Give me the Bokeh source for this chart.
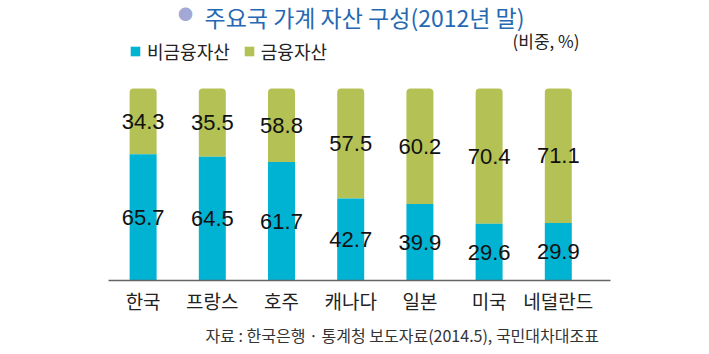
from bokeh.plotting import figure
from bokeh.models import (ColumnDataSource, Range1d, FixedTicker, Label, Legend,
                          LegendItem, Title)
from bokeh.core.properties import value
from bokeh.embed import file_html
from bokeh.resources import INLINE

categories = ["한국", "프랑스", "호주", "캐나다", "일본", "미국", "네덜란드"]
non_financial = [65.7, 64.5, 61.7, 42.7, 39.9, 29.6, 29.9]
financial = [34.3, 35.5, 58.8, 57.5, 60.2, 70.4, 71.1]
total = 100

BLUE = "#00B3D3"
GREEN = "#B4C155"
KFONT = "Noto Sans CJK KR"

xs = list(range(len(categories)))
src = ColumnDataSource(dict(
    x=xs,
    nf=non_financial,
    fi=financial,
    top=[total] * len(xs),
    nf_mid=[v / 2 for v in non_financial],
    fi_mid=[(v + total) / 2 for v in non_financial],
    nf_txt=[f"{v:.1f}" for v in non_financial],
    fi_txt=[f"{v:.1f}" for v in financial],
))

W, H = 709, 354
p = figure(width=W, height=H, output_backend="svg", toolbar_location=None,
           x_range=Range1d(-2.061, 8.185), y_range=Range1d(0, 145.83),
           min_border_left=0, min_border_right=0, min_border_top=0,
           min_border_bottom=74, y_axis_location=None)
p.outline_line_color = None
p.xgrid.visible = False
p.ygrid.visible = False
p.background_fill_color = "white"
p.border_fill_color = "white"

bw = 0.39
r_fi = p.vbar(x="x", bottom="nf", top="top", width=bw, source=src,
              fill_color=GREEN, line_color=None, border_radius=(4, 4, 0, 0))
r_nf = p.vbar(x="x", bottom=0, top="nf", width=bw, source=src,
              fill_color=BLUE, line_color=None)

p.text(x="x", y="nf_mid", text="nf_txt", source=src, text_align="center",
       text_baseline="middle", text_font=value("Liberation Sans"),
       text_font_size="22px", text_color="#111111")
p.text(x="x", y="fi_mid", text="fi_txt", source=src, text_align="center",
       text_baseline="middle", text_font=value("Liberation Sans"),
       text_font_size="22px", text_color="#111111")

ax = p.xaxis[0]
ax.ticker = FixedTicker(ticks=xs)
ax.major_label_overrides = {i: c for i, c in enumerate(categories)}
ax.bounds = (-0.5, 6.75)
ax.major_tick_line_color = None
ax.minor_tick_line_color = None
ax.axis_line_color = "#666666"
ax.axis_line_width = 1.5
ax.major_label_standoff = 0
ax.major_label_text_font = KFONT
ax.major_label_text_font_size = "19px"
ax.major_label_text_color = "#222222"

legend = Legend(items=[LegendItem(label="비금융자산", renderers=[r_nf]),
                       LegendItem(label="금융자산", renderers=[r_fi])],
                orientation="horizontal", location=(129, 216),
                glyph_width=12, glyph_height=12,
                spacing=13, label_standoff=6, padding=0, margin=0,
                border_line_color=None, background_fill_alpha=0)
legend.label_text_font = KFONT
legend.label_text_font_size = "18px"
legend.label_text_color = "#222222"
p.add_layout(legend, "center")

# frame bottom is at canvas y=280; label screen coords are relative to frame
p.add_layout(Label(x=185, y=267, x_units="screen", y_units="screen",
                   text="●", text_font=KFONT, text_font_size="15px",
                   text_color="#A3A9D6", text_align="center",
                   text_baseline="middle"))
p.add_layout(Label(x=204, y=264, x_units="screen", y_units="screen",
                   text="주요국 가계 자산 구성(2012년 말)",
                   text_font=KFONT, text_font_size="23px",
                   text_color="#2568B3", text_baseline="middle"))
p.add_layout(Label(x=579, y=240, x_units="screen", y_units="screen",
                   text="(비중, %)", text_font=KFONT,
                   text_font_size="17px", text_color="#222222",
                   text_align="right", text_baseline="middle"))

src_title = Title(text="자료 : 한국은행 · 통계청 보도자료(2014.5), 국민대차대조표",
                  align="left", offset=205, text_font=KFONT,
                  text_font_size="16px", text_color="#333333",
                  text_font_style="normal", standoff=8)
p.add_layout(src_title, "below")

open("out.html", "w").write(file_html(p, INLINE))
